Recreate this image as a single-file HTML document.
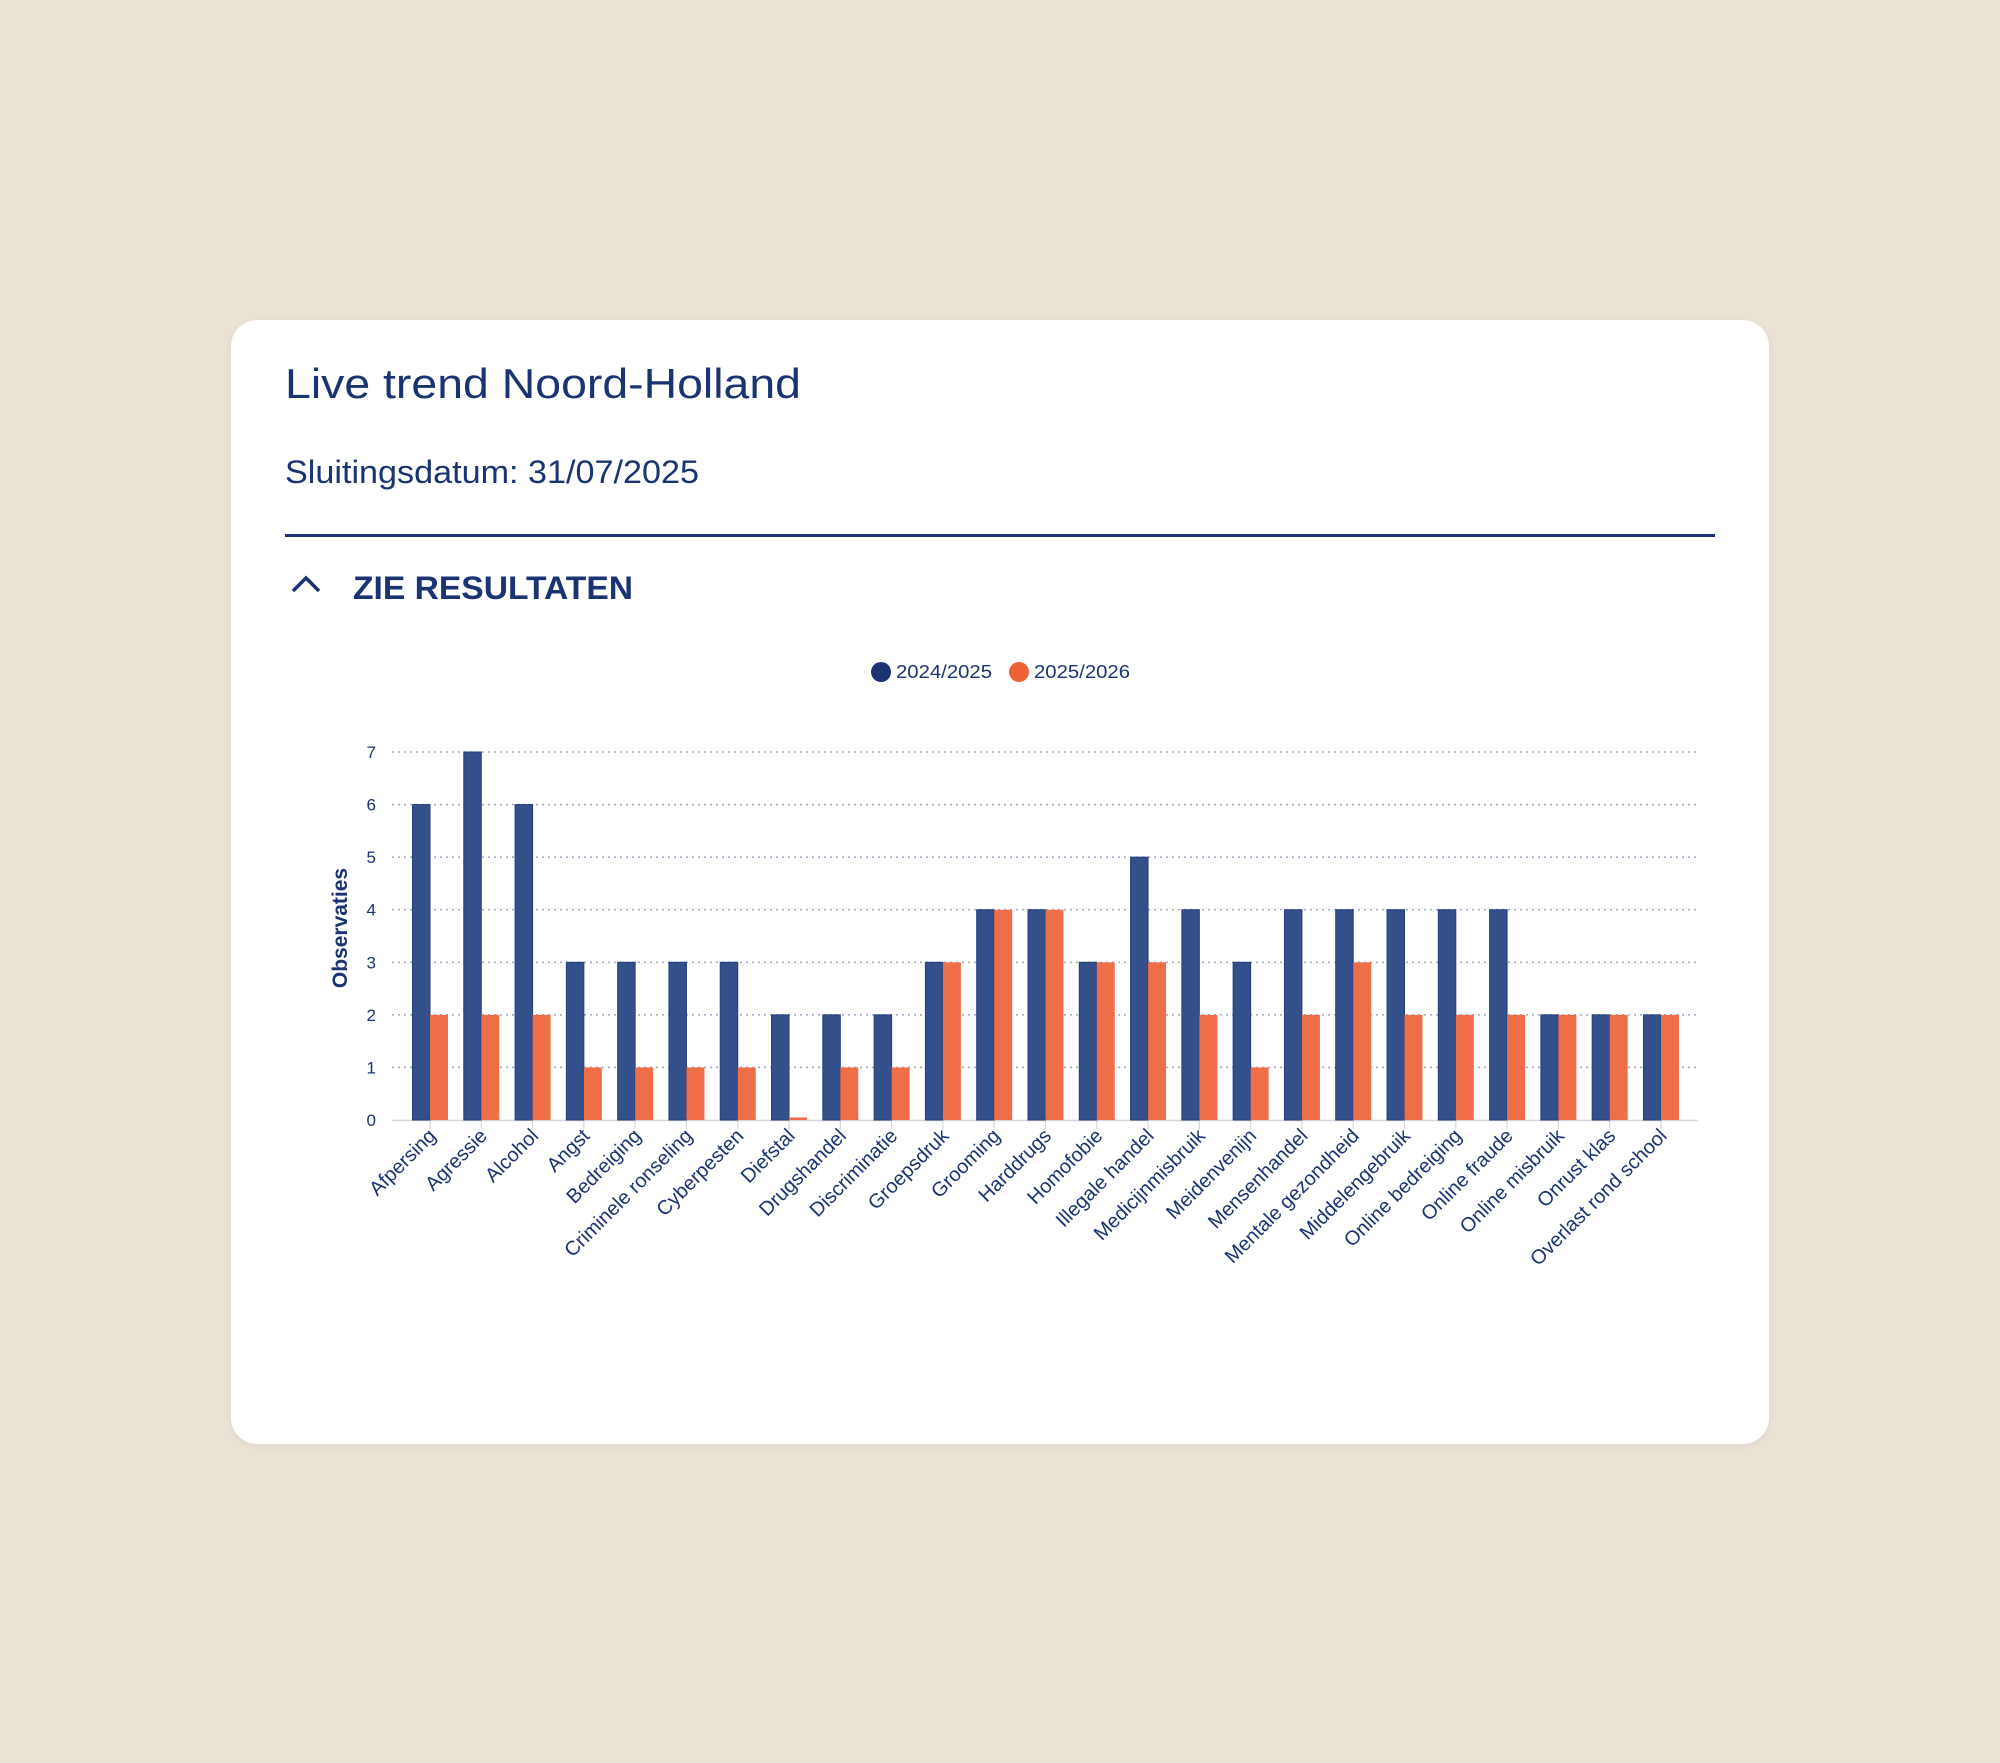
<!DOCTYPE html>
<html><head><meta charset="utf-8"><style>
html,body{margin:0;padding:0;background:#ebe2d6;}
body{width:2000px;height:1763px;overflow:hidden;position:relative;}
.card{position:absolute;left:231px;top:320px;width:1538px;height:1124px;background:#fff;border-radius:26px;box-shadow:0 2px 8px rgba(0,0,0,0.06);}
svg{position:absolute;left:0;top:0;}
</style></head><body>
<div class="card"></div>
<svg id="s" width="2000" height="1763" xmlns="http://www.w3.org/2000/svg" font-family="Liberation Sans, sans-serif">
<text x="285" y="398" font-size="42" fill="#1a3373" textLength="516" lengthAdjust="spacingAndGlyphs">Live trend Noord-Holland</text>
<text x="285" y="483" font-size="32" fill="#1a3373" textLength="414" lengthAdjust="spacingAndGlyphs">Sluitingsdatum: 31/07/2025</text>
<rect x="285" y="534" width="1430" height="3" fill="#1a3373"/>
<polyline points="293,591 306,578 319,591" fill="none" stroke="#1a3373" stroke-width="3.5"/>
<text x="353" y="599" font-size="32" font-weight="bold" fill="#1a3373" textLength="280" lengthAdjust="spacingAndGlyphs">ZIE RESULTATEN</text>
<circle cx="881" cy="672" r="10" fill="#1a3373"/>
<text x="896" y="678" font-size="18" fill="#1a3373" textLength="96" lengthAdjust="spacingAndGlyphs">2024/2025</text>
<circle cx="1019" cy="672" r="10" fill="#ee6238"/>
<text x="1034" y="678" font-size="18" fill="#1a3373" textLength="96" lengthAdjust="spacingAndGlyphs">2025/2026</text>
<text transform="translate(347,928) rotate(-90)" text-anchor="middle" font-size="21" font-weight="bold" fill="#1a3373">Observaties</text>
<g id="g"></g>
</svg>
<script>
var blue=[6,7,6,3,3,3,3,2,2,2,3,4,4,3,5,4,3,4,4,4,4,4,2,2,2];
var org=[2,2,2,1,1,1,1,0,1,1,3,4,4,3,3,2,1,2,3,2,2,2,2,2,2];
var cats=["Afpersing","Agressie","Alcohol","Angst","Bedreiging","Criminele ronseling","Cyberpesten","Diefstal","Drugshandel","Discriminatie","Groepsdruk","Grooming","Harddrugs","Homofobie","Illegale handel","Medicijnmisbruik","Meidenvenijn","Mensenhandel","Mentale gezondheid","Middelengebruik","Online bedreiging","Online fraude","Online misbruik","Onrust klas","Overlast rond school"];
var h='',y0=1120,u=52.57;
for(var i=0;i<=7;i++){var y=y0-i*u;
 if(i>0)h+='<line x1="392" x2="1698" y1="'+y+'" y2="'+y+'" stroke="#a6abc8" stroke-width="1.6" stroke-dasharray="2,4"/>';
 h+='<text x="376" y="'+(y+6)+'" text-anchor="end" font-size="17" fill="#1a3373">'+i+'</text>';}
h+='<line x1="392" x2="1698" y1="1120.5" y2="1120.5" stroke="#d8d8d8" stroke-width="1.5"/>';
for(var k=0;k<25;k++){var c=430+k*51.29;
 var bh=blue[k]*u;h+='<rect x="'+(c-17.5)+'" y="'+(y0-bh)+'" width="17.5" height="'+bh+'" fill="#33508b" stroke="#243f7c" stroke-width="1"/>';
 var oh=org[k]*u;if(oh==0)oh=2.5;h+='<rect x="'+c+'" y="'+(y0-oh)+'" width="18" height="'+oh+'" fill="#ee6e48"/>';
 h+='<line x1="'+c+'" x2="'+c+'" y1="1121" y2="1129" stroke="#d8d8d8" stroke-width="1.2"/>';
 h+='<text transform="translate('+(c+7)+',1137) rotate(-45)" text-anchor="end" font-size="20" fill="#1a3373">'+cats[k]+'</text>';}
document.getElementById('g').innerHTML=h;
</script>
</body></html>
